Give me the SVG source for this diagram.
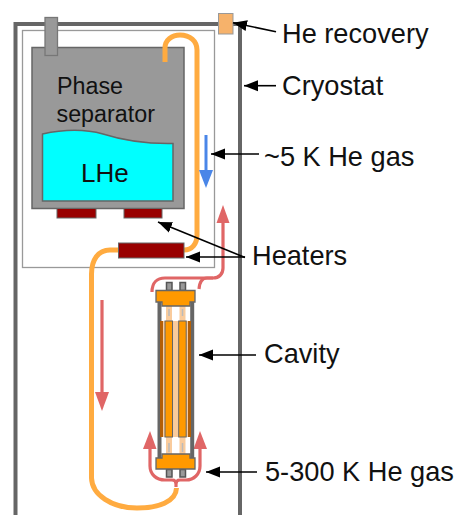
<svg xmlns="http://www.w3.org/2000/svg" width="455" height="515" viewBox="0 0 455 515">
<defs>
<marker id="blk" markerUnits="userSpaceOnUse" markerWidth="14" markerHeight="12" refX="0" refY="6" orient="auto"><path d="M14 0.500L0 6L14 11.500Z" fill="#000"/></marker>
</defs>
<style>
text{font-family:"Liberation Sans",Arial,sans-serif;font-size:27.200px;fill:#111}
.in{font-size:23.300px}
.ptr{fill:none;stroke:#000;stroke-width:1.600}
.heater{fill:#990000;stroke:#666;stroke-width:1}
.orange{fill:none;stroke:#ffab40;stroke-width:5}
.red{fill:none;stroke:#e06666;stroke-width:3.200}
.redh{fill:#e06666}
.con{fill:#999;stroke:#555;stroke-width:1.500}
.orangeblk{fill:#ff9900;stroke:#666;stroke-width:1.300}
.pale{fill:#f9cb9c}
.rod{fill:#ff9900;stroke:#666;stroke-width:1}
.pin{stroke:#bbb;stroke-width:1.500;fill:none}
</style>
<rect width="455" height="515" fill="#fff"/>
<g id="cryostat"><path d="M15.500 515V24H240V515" fill="none" stroke="#666" stroke-width="4"/></g>
<g id="inner-box"><rect x="22.500" y="30.500" width="192" height="237" fill="#fff" stroke="#999" stroke-width="1.300"/></g>
<g id="recovery"><rect x="218.500" y="13.500" width="14.500" height="20.500" fill="#f6b26b" stroke="#999"/></g>
<g id="phase-separator">
<rect x="32" y="47.500" width="152" height="161" fill="#999" stroke="#666" stroke-width="1.500"/>
<rect x="45" y="17.500" width="12.500" height="38" fill="#999" stroke="#777" stroke-width="1.300"/>
<path d="M42.500 134C65 129 85 129 103 134C125 141 145 144 173 143.500V201H42.500Z" fill="#00ffff" stroke="#666" stroke-width="1.500"/>
<text class="in" x="57" y="94">Phase</text><text class="in" x="56.500" y="122">separator</text>
<text x="81" y="182" style="font-size:26px">LHe</text>
</g>
<g id="connectors">
<path class="orange" d="M165 62V48C165 40 172 35 180 35C190 35 197 41 197 50V235C197 244 192 250 184 250"/>
<path class="orange" d="M118 250H110C98 250 91.500 260 91.500 274V478C92 495 112 508 137 508C158 508 176 502 176.500 488"/>
<path class="red" d="M223 222V268C223 274 219 278 213 278H165C157 278 152 283 152 292"/>
<path class="red" d="M213 278H207C202 278 199.500 283 199 289"/>
<path d="M206 135V170" stroke="#4a86e8" stroke-width="3" fill="none"/><path d="M199 170H213L206 188Z" fill="#4a86e8"/>
<path d="M216.500 223H229.500L223 205Z" class="redh"/>
<path class="red" d="M102 300V395"/><path d="M95 392H109L102 411Z" class="redh"/>
<path class="red" d="M150 447V466C150 474 156 480 165 480H172C174 480 176 481 176 484V487M176 484C176 481 178 480 180 480H186C194 480 200 474 200 466V447"/>
<path d="M143 449H156.500L150 431Z" class="redh"/><path d="M193.500 449H207L200 431Z" class="redh"/>
<path class="ptr" marker-start="url(#blk)" d="M233 22.700L276 31.700"/>
<path class="ptr" marker-start="url(#blk)" d="M244 85.700H276"/>
<path class="ptr" marker-start="url(#blk)" d="M211 154H259"/>
<path class="ptr" marker-start="url(#blk)" d="M158 222L245 257.500"/>
<path class="ptr" marker-start="url(#blk)" d="M186 257H245"/>
<path class="ptr" marker-start="url(#blk)" d="M199 355H256"/>
<path class="ptr" marker-start="url(#blk)" d="M206 472H257"/>
</g>
<g id="heaters">
<rect class="heater" x="57" y="208.500" width="39" height="9.500"/><rect class="heater" x="124" y="208.500" width="38" height="9.500"/><rect class="heater" x="118.500" y="243" width="65.500" height="15"/>
</g>
<g id="cavity">
<rect class="pale" x="162" y="321" width="27" height="116"/>
<rect class="pale" x="166" y="306" width="6" height="15"/><rect class="pale" x="179.500" y="306" width="6" height="15"/>
<rect class="pale" x="166" y="437" width="6" height="17"/><rect class="pale" x="179.500" y="437" width="6" height="17"/>
<path class="pin" d="M169 309V316M182.500 309V316M169 443V452M182.500 443V452"/>
<path d="M159.500 300V458M192.200 300V458" stroke="#666" stroke-width="4" fill="none"/>
<rect x="160" y="321" width="3" height="116" fill="#b45f06"/><rect x="188" y="321" width="3" height="116" fill="#b45f06"/>
<rect class="rod" x="165" y="321" width="7.500" height="116"/><rect class="rod" x="178.700" y="321" width="7.500" height="116"/>
<rect class="con" x="166.500" y="282.500" width="5.500" height="8"/><rect class="con" x="180" y="282.500" width="5.500" height="8"/>
<rect class="con" x="166.500" y="469.500" width="5.500" height="7.500"/><rect class="con" x="180" y="469.500" width="5.500" height="7.500"/>
<path class="orangeblk" d="M156 290.500H195V302H190V306H162V302H156Z"/>
<path class="orangeblk" d="M162 454H190V458H195V469H156V458H162Z"/>
</g>
<g id="labels">
<text x="282" y="43">He recovery</text><text x="282" y="94.500">Cryostat</text><text x="264" y="166">~5 K He gas</text><text x="252" y="265">Heaters</text><text x="264" y="363">Cavity</text><text x="265" y="481">5-300 K He gas</text>
</g>
</svg>
